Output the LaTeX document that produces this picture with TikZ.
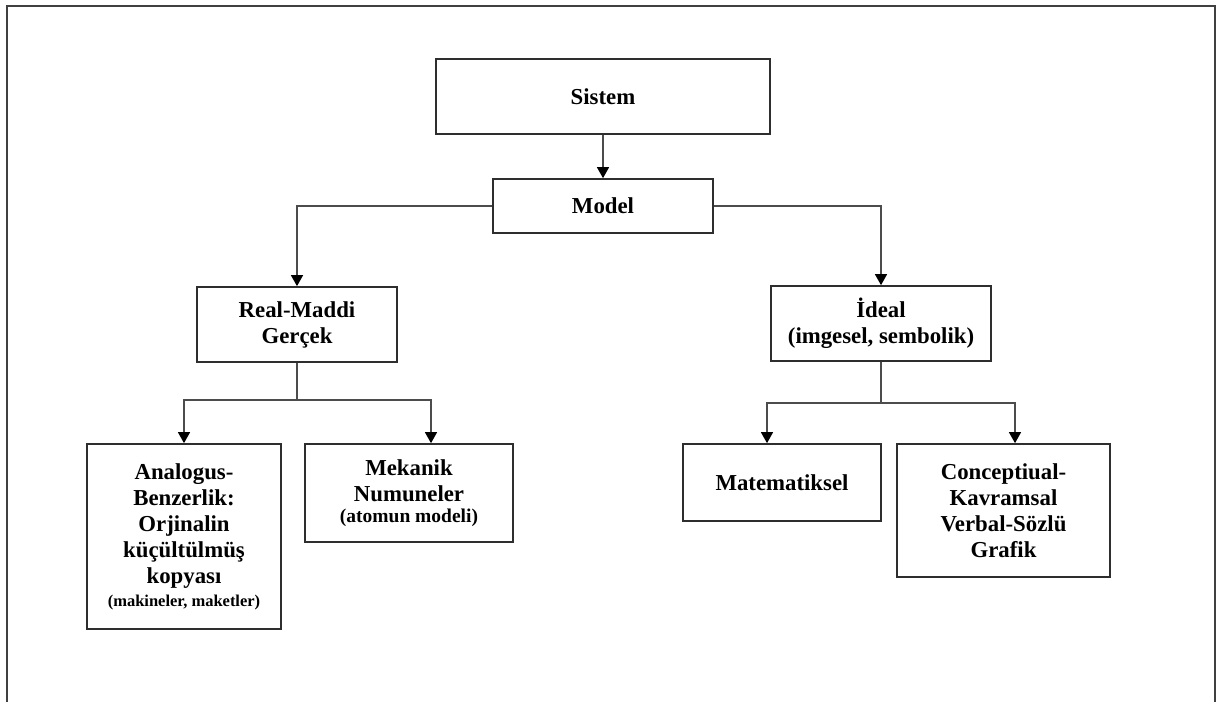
\documentclass[tikz,border=0pt]{standalone}
\usepackage{fontspec}
\setmainfont{Liberation Serif}
\usetikzlibrary{arrows.meta}
\begin{document}
\begin{tikzpicture}[x=1pt,y=-1pt,
  box/.style={draw=black!82, line width=1.7pt, align=center, inner sep=0pt,
    font=\bfseries\fontsize{22.8}{26}\selectfont},
  link/.style={draw=black!70, line width=1.3pt},
  arr/.style={link, -{Triangle[width=12pt,length=11pt,color=black]}},
  frame/.style={draw=black!75, line width=1.8pt}]
  \useasboundingbox (0,0) rectangle (1217,702);
  % open page frame (top, left, right)
  \draw[frame] (7,702) -- (7,6) -- (1215,6) -- (1215,702);

  % boxes
  \node[box, minimum width=334pt, minimum height=75pt] (sistem) at (603,96.5) {Sistem};
  \node[box, minimum width=220pt, minimum height=54pt] (model) at (603,206) {Model};
  \node[box, minimum width=200pt, minimum height=75pt] (real) at (297,324.5) {Real-Maddi\\Gerçek};
  \node[box, minimum width=220pt, minimum height=75pt] (ideal) at (881,323.5) {İdeal\\(imgesel, sembolik)};
  \node[box, minimum width=194pt, minimum height=185pt] (analog) at (184,536.5)
    {Analogus-\\Benzerlik:\\Orjinalin\\küçültülmüş\\kopyası\\[-3pt]{\fontsize{16.5}{18}\selectfont (makineler, maketler)}};
  \node[box, minimum width=208pt, minimum height=98pt] (mekanik) at (409,493)
    {Mekanik\\Numuneler\\[-5pt]{\fontsize{19.5}{21}\selectfont (atomun modeli)}};
  \node[box, minimum width=198pt, minimum height=77pt] (matem) at (782,482.5) {Matematiksel};
  \node[box, minimum width=213pt, minimum height=133pt] (concept) at (1003.5,510.5)
    {Conceptiual-\\Kavramsal\\Verbal-Sözlü\\Grafik};

  % connectors
  \draw[arr] (sistem.south) -- (model.north);
  \draw[arr] (model.west) -| (real.north);
  \draw[arr] (model.east) -| (ideal.north);

  \coordinate (jr) at ([yshift=-37pt]real.south);
  \draw[link] (real.south) -- (jr);
  \draw[arr] (jr) -| (analog.north);
  \draw[arr] (jr) -| ([xshift=22pt]mekanik.north);

  \coordinate (ji) at ([yshift=-41pt]ideal.south);
  \draw[link] (ideal.south) -- (ji);
  \draw[arr] (ji) -| ([xshift=-15pt]matem.north);
  \draw[arr] (ji) -| ([xshift=11.5pt]concept.north);
\end{tikzpicture}
\end{document}
